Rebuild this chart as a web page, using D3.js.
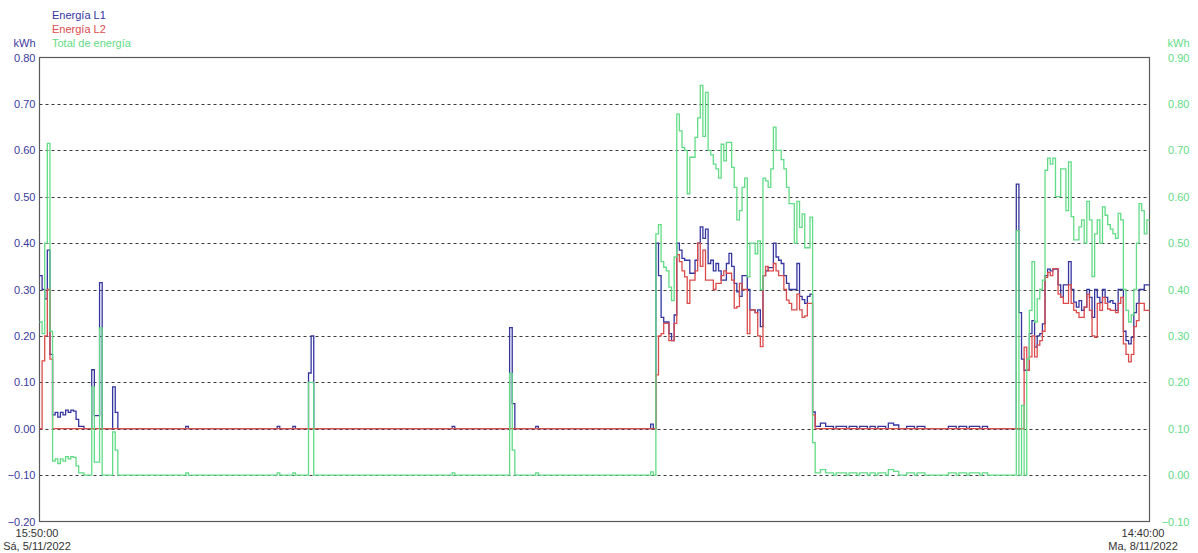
<!DOCTYPE html>
<html>
<head>
<meta charset="utf-8">
<script src="https://cdn.jsdelivr.net/npm/d3@7"></script>
<style>
  html, body { margin: 0; padding: 0; background: #fff; }
  svg { display: block; font-family: "Liberation Sans", Arial, sans-serif; }
</style>
</head>
<body>
<svg id="chart" width="1198" height="553"></svg>
<script>
// ---- data ---------------------------------------------------------------
const seriesNames = ["Energía L1", "Energía L2", "Total de energía"];
const unitLabel = "kWh";
const startStamp = "2022-11-05T15:50:00";
const endStamp = "2022-11-08T14:40:00";
const sampleMinutes = 10;
const leftTicks = [0.80, 0.70, 0.60, 0.50, 0.40, 0.30, 0.20, 0.10, 0.00, -0.10, -0.20];
const rightTicks = [0.90, 0.80, 0.70, 0.60, 0.50, 0.40, 0.30, 0.20, 0.10, 0.00, -0.10];
const gridTicks = [0.70, 0.60, 0.50, 0.40, 0.30, 0.20, 0.10, 0.00, -0.10];
const shortDays = ["Do", "Lu", "Ma", "Mi", "Ju", "Vi", "Sá"];

// 10-minute readings, phase L1 (kWh)
const energyL1 = [
  0.33, 0.30, 0.28, 0.385, 0.16, 0.03, 0.035, 0.025, 0.035, 0.03,
  0.04, 0.035, 0.04, 0.038, 0.02, 0.005, 0.005, 0, 0, 0,
  0.127, 0.028, 0.028, 0.315, 0, 0, 0, 0, 0.09, 0.035,
  0, 0, 0, 0, 0, 0, 0, 0, 0, 0,
  0, 0, 0, 0, 0, 0, 0, 0, 0, 0,
  0, 0, 0, 0, 0, 0, 0.005, 0, 0, 0,
  0, 0, 0, 0, 0, 0, 0, 0, 0, 0,
  0, 0, 0, 0, 0, 0, 0, 0, 0, 0,
  0, 0, 0, 0, 0, 0, 0, 0, 0, 0,
  0, 0.005, 0, 0, 0, 0, 0, 0.005, 0, 0,
  0, 0, 0, 0.12, 0.20, 0, 0, 0, 0, 0,
  0, 0, 0, 0, 0, 0, 0, 0, 0, 0,
  0, 0, 0, 0, 0, 0, 0, 0, 0, 0,
  0, 0, 0, 0, 0, 0, 0, 0, 0, 0,
  0, 0, 0, 0, 0, 0, 0, 0, 0, 0,
  0, 0, 0, 0, 0, 0, 0, 0, 0.005, 0,
  0, 0, 0, 0, 0, 0, 0, 0, 0, 0,
  0, 0, 0, 0, 0, 0, 0, 0, 0, 0,
  0.218, 0.054, 0, 0, 0, 0, 0, 0, 0, 0,
  0.005, 0, 0, 0, 0, 0, 0, 0, 0, 0,
  0, 0, 0, 0, 0, 0, 0, 0, 0, 0,
  0, 0, 0, 0, 0, 0, 0, 0, 0, 0,
  0, 0, 0, 0, 0, 0, 0, 0, 0, 0,
  0, 0, 0, 0, 0.01, 0, 0.40, 0.33, 0.24, 0.23,
  0.23, 0.205, 0.19, 0.245, 0.40, 0.385, 0.367, 0.363, 0.363, 0.335,
  0.335, 0.363, 0.40, 0.435, 0.41, 0.43, 0.356, 0.363, 0.34, 0.356,
  0.34, 0.32, 0.32, 0.356, 0.378, 0.35, 0.313, 0.295, 0.285, 0.33,
  0.33, 0.30, 0.256, 0.256, 0.25, 0.256, 0.22, 0.33, 0.34, 0.347,
  0.347, 0.40, 0.37, 0.363, 0.356, 0.33, 0.313, 0.30, 0.30, 0.30,
  0.356, 0.285, 0.278, 0.27, 0.285, 0.29, 0.036, 0.005, 0.005, 0.012,
  0.012, 0.005, 0.005, 0.005, 0, 0.005, 0.005, 0.005, 0.005, 0,
  0.005, 0.005, 0.005, 0, 0.005, 0.005, 0.005, 0, 0.005, 0.005,
  0, 0.005, 0.005, 0.005, 0, 0.012, 0.012, 0.008, 0.008, 0,
  0, 0, 0.005, 0.005, 0.005, 0, 0.005, 0.005, 0.005, 0,
  0, 0, 0, 0, 0, 0, 0, 0, 0.005, 0.005,
  0.005, 0, 0.005, 0.005, 0.005, 0, 0.005, 0.005, 0.005, 0.005,
  0, 0.005, 0.005, 0, 0, 0, 0, 0, 0, 0,
  0, 0, 0, 0, 0.527, 0.25, 0.15, 0.126, 0.126,
  0.205, 0.233, 0.176, 0.20, 0.205, 0.226, 0.33, 0.344, 0.34, 0.344,
  0.344, 0.31, 0.283, 0.31, 0.31, 0.36, 0.30, 0.273, 0.262, 0.276,
  0.255, 0.262, 0.30, 0.283, 0.24, 0.30, 0.283, 0.272, 0.30, 0.283,
  0.273, 0.276, 0.27, 0.255, 0.30, 0.30, 0.21, 0.19, 0.183, 0.197,
  0.25, 0.27, 0.30, 0.30, 0.31, 0.31, 0.31
];

// 10-minute readings, phase L2 (kWh)
const energyL2 = [
  0, 0.146, 0.20, 0.30, 0.15, 0, 0, 0, 0, 0,
  0, 0, 0, 0, 0, 0, 0, 0, 0, 0,
  0, 0, 0, 0, 0, 0, 0, 0, 0, 0,
  0, 0, 0, 0, 0, 0, 0, 0, 0, 0,
  0, 0, 0, 0, 0, 0, 0, 0, 0, 0,
  0, 0, 0, 0, 0, 0, 0, 0, 0, 0,
  0, 0, 0, 0, 0, 0, 0, 0, 0, 0,
  0, 0, 0, 0, 0, 0, 0, 0, 0, 0,
  0, 0, 0, 0, 0, 0, 0, 0, 0, 0,
  0, 0, 0, 0, 0, 0, 0, 0, 0, 0,
  0, 0, 0, 0, 0, 0, 0, 0, 0, 0,
  0, 0, 0, 0, 0, 0, 0, 0, 0, 0,
  0, 0, 0, 0, 0, 0, 0, 0, 0, 0,
  0, 0, 0, 0, 0, 0, 0, 0, 0, 0,
  0, 0, 0, 0, 0, 0, 0, 0, 0, 0,
  0, 0, 0, 0, 0, 0, 0, 0, 0, 0,
  0, 0, 0, 0, 0, 0, 0, 0, 0, 0,
  0, 0, 0, 0, 0, 0, 0, 0, 0, 0,
  0, 0, 0, 0, 0, 0, 0, 0, 0, 0,
  0, 0, 0, 0, 0, 0, 0, 0, 0, 0,
  0, 0, 0, 0, 0, 0, 0, 0, 0, 0,
  0, 0, 0, 0, 0, 0, 0, 0, 0, 0,
  0, 0, 0, 0, 0, 0, 0, 0, 0, 0,
  0, 0, 0, 0, 0, 0, 0.116, 0.20, 0.205, 0.227,
  0.227, 0.19, 0.19, 0.227, 0.375, 0.36, 0.34, 0.327, 0.27, 0.32,
  0.32, 0.34, 0.40, 0.35, 0.385, 0.32, 0.32, 0.32, 0.30, 0.313,
  0.313, 0.33, 0.34, 0.335, 0.335, 0.32, 0.26, 0.263, 0.313, 0.30,
  0.30, 0.205, 0.256, 0.256, 0.25, 0.20, 0.177, 0.33, 0.35, 0.34,
  0.34, 0.356, 0.34, 0.33, 0.33, 0.30, 0.277, 0.27, 0.256, 0.256,
  0.29, 0.256, 0.24, 0.243, 0.27, 0.27, 0.03, 0, 0, 0,
  0, 0, 0, 0, 0, 0, 0, 0, 0, 0,
  0, 0, 0, 0, 0, 0, 0, 0, 0, 0,
  0, 0, 0, 0, 0, 0, 0, 0, 0, 0,
  0, 0, 0, 0, 0, 0, 0, 0, 0, 0,
  0, 0, 0, 0, 0, 0, 0, 0, 0, 0,
  0, 0, 0, 0, 0, 0, 0, 0, 0, 0,
  0, 0, 0, 0, 0, 0, 0, 0, 0, 0,
  0, 0, 0, 0, 0, 0, 0, 0.176, 0.126,
  0.155, 0.20, 0.155, 0.18, 0.19, 0.21, 0.326, 0.337, 0.33, 0.345,
  0.345, 0.29, 0.283, 0.27, 0.27, 0.31, 0.27, 0.255, 0.25, 0.24,
  0.24, 0.262, 0.29, 0.255, 0.20, 0.197, 0.27, 0.255, 0.283, 0.27,
  0.258, 0.255, 0.255, 0.25, 0.27, 0.283, 0.183, 0.16, 0.144, 0.16,
  0.22, 0.233, 0.27, 0.27, 0.255, 0.255, 0.255
];

// 10-minute readings, total energy (kWh, right-hand scale)
const energyTotal = [
  0.33, 0.305, 0.50, 0.715, 0.31, 0.03, 0.035, 0.025, 0.035, 0.03,
  0.04, 0.035, 0.04, 0.038, 0.02, 0.005, 0.005, 0, 0, 0,
  0.19, 0.028, 0.028, 0.317, 0, 0, 0, 0, 0.093, 0.054,
  0, 0, 0, 0, 0, 0, 0, 0, 0, 0,
  0, 0, 0, 0, 0, 0, 0, 0, 0, 0,
  0, 0, 0, 0, 0, 0, 0.005, 0, 0, 0,
  0, 0, 0, 0, 0, 0, 0, 0, 0, 0,
  0, 0, 0, 0, 0, 0, 0, 0, 0, 0,
  0, 0, 0, 0, 0, 0, 0, 0, 0, 0,
  0, 0.005, 0, 0, 0, 0, 0, 0.005, 0, 0,
  0, 0, 0, 0.20, 0.20, 0, 0, 0, 0, 0,
  0, 0, 0, 0, 0, 0, 0, 0, 0, 0,
  0, 0, 0, 0, 0, 0, 0, 0, 0, 0,
  0, 0, 0, 0, 0, 0, 0, 0, 0, 0,
  0, 0, 0, 0, 0, 0, 0, 0, 0, 0,
  0, 0, 0, 0, 0, 0, 0, 0, 0.005, 0,
  0, 0, 0, 0, 0, 0, 0, 0, 0, 0,
  0, 0, 0, 0, 0, 0, 0, 0, 0, 0,
  0.219, 0.054, 0, 0, 0, 0, 0, 0, 0, 0,
  0.005, 0, 0, 0, 0, 0, 0, 0, 0, 0,
  0, 0, 0, 0, 0, 0, 0, 0, 0, 0,
  0, 0, 0, 0, 0, 0, 0, 0, 0, 0,
  0, 0, 0, 0, 0, 0, 0, 0, 0, 0,
  0, 0, 0, 0, 0.007, 0, 0.52, 0.54, 0.46, 0.448,
  0.44, 0.405, 0.376, 0.47, 0.778, 0.742, 0.706, 0.70, 0.606, 0.685,
  0.685, 0.728, 0.77, 0.84, 0.73, 0.825, 0.70, 0.69, 0.67, 0.66,
  0.64, 0.713, 0.677, 0.717, 0.717, 0.663, 0.62, 0.55, 0.57, 0.62,
  0.64, 0.427, 0.50, 0.50, 0.477, 0.505, 0.40, 0.64, 0.634, 0.62,
  0.66, 0.75, 0.70, 0.70, 0.68, 0.66, 0.62, 0.585, 0.585, 0.50,
  0.59, 0.534, 0.563, 0.49, 0.49, 0.556, 0.07, 0.005, 0.005, 0.012,
  0.012, 0.005, 0.005, 0.005, 0, 0.005, 0.005, 0.005, 0.005, 0,
  0.005, 0.005, 0.005, 0, 0.005, 0.005, 0.005, 0, 0.005, 0.005,
  0, 0.005, 0.005, 0.005, 0, 0.012, 0.012, 0.008, 0.008, 0,
  0, 0, 0.005, 0.005, 0.005, 0, 0.005, 0.005, 0.005, 0,
  0, 0, 0, 0, 0, 0, 0, 0, 0.005, 0.005,
  0.005, 0, 0.005, 0.005, 0.005, 0, 0.005, 0.005, 0.005, 0.005,
  0, 0.005, 0.005, 0, 0, 0, 0, 0, 0, 0,
  0, 0, 0, 0, 0.527, 0, 0.15, 0, 0.25,
  0.355, 0.46, 0.33, 0.38, 0.40, 0.42, 0.657, 0.683, 0.67, 0.683,
  0.60, 0.60, 0.66, 0.66, 0.57, 0.675, 0.557, 0.507, 0.507, 0.535,
  0.55, 0.50, 0.59, 0.55, 0.428, 0.52, 0.55, 0.50, 0.578, 0.56,
  0.54, 0.53, 0.52, 0.51, 0.564, 0.55, 0.40, 0.355, 0.33, 0.345,
  0.40, 0.50, 0.585, 0.57, 0.52, 0.55, 0.55
];

// ---- layout ---------------------------------------------------------------
const plot = { left: 39.5, right: 1149.5, top: 57.5, bottom: 521.5 };
const colors = { l1: "#35359f", l2: "#dc4b4b", total: "#62dc86", axisText: "#3a3aa0", timeText: "#333333" };
const font = "11px";

const svg = d3.select("#chart");

const start = new Date(startStamp);
const end = new Date(endStamp);
const times = energyL1.map((_, i) => d3.timeMinute.offset(start, i * sampleMinutes));

const x = d3.scaleTime().domain([start, end]).range([plot.left, plot.right]);
const yL = d3.scaleLinear().domain([-0.2, 0.8]).range([plot.bottom, plot.top]);
const yR = d3.scaleLinear().domain([-0.1, 0.9]).range([plot.bottom, plot.top]);

// dotted horizontal grid
svg.append("g")
  .selectAll("line")
  .data(gridTicks)
  .join("line")
  .attr("x1", plot.left)
  .attr("x2", plot.right)
  .attr("y1", d => Math.round(yL(d)) + 0.5)
  .attr("y2", d => Math.round(yL(d)) + 0.5)
  .attr("stroke", "#3c3c3c")
  .attr("stroke-width", 1)
  .attr("stroke-dasharray", "3,3");

// plot frame
svg.append("rect")
  .attr("x", plot.left)
  .attr("y", plot.top)
  .attr("width", plot.right - plot.left)
  .attr("height", plot.bottom - plot.top)
  .attr("fill", "none")
  .attr("stroke", "#5a5a5a")
  .attr("stroke-width", 1.2);

// step lines
const stepLine = scale => d3.line()
  .x((d, i) => x(times[i]))
  .y(d => scale(d))
  .curve(d3.curveStepAfter);

const lines = svg.append("g");
lines.append("path").datum(energyL1)
  .attr("d", stepLine(yL)).attr("fill", "none")
  .attr("stroke", colors.l1).attr("stroke-width", 1.3);
lines.append("path").datum(energyL2)
  .attr("d", stepLine(yL)).attr("fill", "none")
  .attr("stroke", colors.l2).attr("stroke-width", 1.3);
lines.append("path").datum(energyTotal)
  .attr("d", stepLine(yR)).attr("fill", "none")
  .attr("stroke", colors.total).attr("stroke-width", 1.3);

// left axis (L1 / L2)
const fmt = d3.format(".2f");
const leftAxis = svg.append("g")
  .attr("transform", `translate(${plot.left},0)`)
  .call(d3.axisLeft(yL).tickValues(leftTicks).tickFormat(fmt).tickSize(0).tickPadding(4));
leftAxis.select(".domain").remove();
leftAxis.selectAll("text")
  .attr("fill", colors.axisText)
  .style("font-size", font)
  .style("font-family", "'Liberation Sans', Arial, sans-serif");

// right axis (total)
const rightAxis = svg.append("g")
  .attr("transform", `translate(${plot.right},0)`)
  .call(d3.axisRight(yR).tickValues(rightTicks).tickFormat(fmt).tickSize(0).tickPadding(40));
rightAxis.select(".domain").remove();
rightAxis.selectAll("text")
  .attr("fill", colors.total)
  .attr("text-anchor", "end")
  .style("font-size", font)
  .style("font-family", "'Liberation Sans', Arial, sans-serif");

// unit captions
svg.append("text").attr("x", 35.5).attr("y", 47).attr("text-anchor", "end")
  .attr("fill", colors.axisText).style("font-size", font).text(unitLabel);
svg.append("text").attr("x", 1189.5).attr("y", 47).attr("text-anchor", "end")
  .attr("fill", colors.total).style("font-size", font).text(unitLabel);

// legend
const legendColors = [colors.l1, colors.l2, colors.total];
svg.append("g")
  .selectAll("text")
  .data(seriesNames)
  .join("text")
  .attr("x", 52)
  .attr("y", (d, i) => 19 + i * 14)
  .attr("fill", (d, i) => legendColors[i])
  .style("font-size", font)
  .text(d => d);

// time range captions
const locale = d3.timeFormatLocale({
  dateTime: "%x, %X", date: "%d/%m/%Y", time: "%H:%M:%S",
  periods: ["AM", "PM"],
  days: ["domingo", "lunes", "martes", "miércoles", "jueves", "viernes", "sábado"],
  shortDays: shortDays,
  months: ["enero", "febrero", "marzo", "abril", "mayo", "junio", "julio", "agosto", "septiembre", "octubre", "noviembre", "diciembre"],
  shortMonths: ["ene", "feb", "mar", "abr", "may", "jun", "jul", "ago", "sep", "oct", "nov", "dic"]
});
const fmtTime = locale.format("%H:%M:%S");
const fmtDate = locale.format("%a, %-d/%-m/%Y");

const timeLabels = [
  { t: start, cx: 37 },
  { t: end, cx: 1143 }
];
const tl = svg.append("g").attr("fill", colors.timeText).style("font-size", font);
timeLabels.forEach(d => {
  tl.append("text").attr("x", d.cx).attr("y", 537).attr("text-anchor", "middle").text(fmtTime(d.t));
  tl.append("text").attr("x", d.cx).attr("y", 550).attr("text-anchor", "middle").text(fmtDate(d.t));
});
</script>
</body>
</html>
